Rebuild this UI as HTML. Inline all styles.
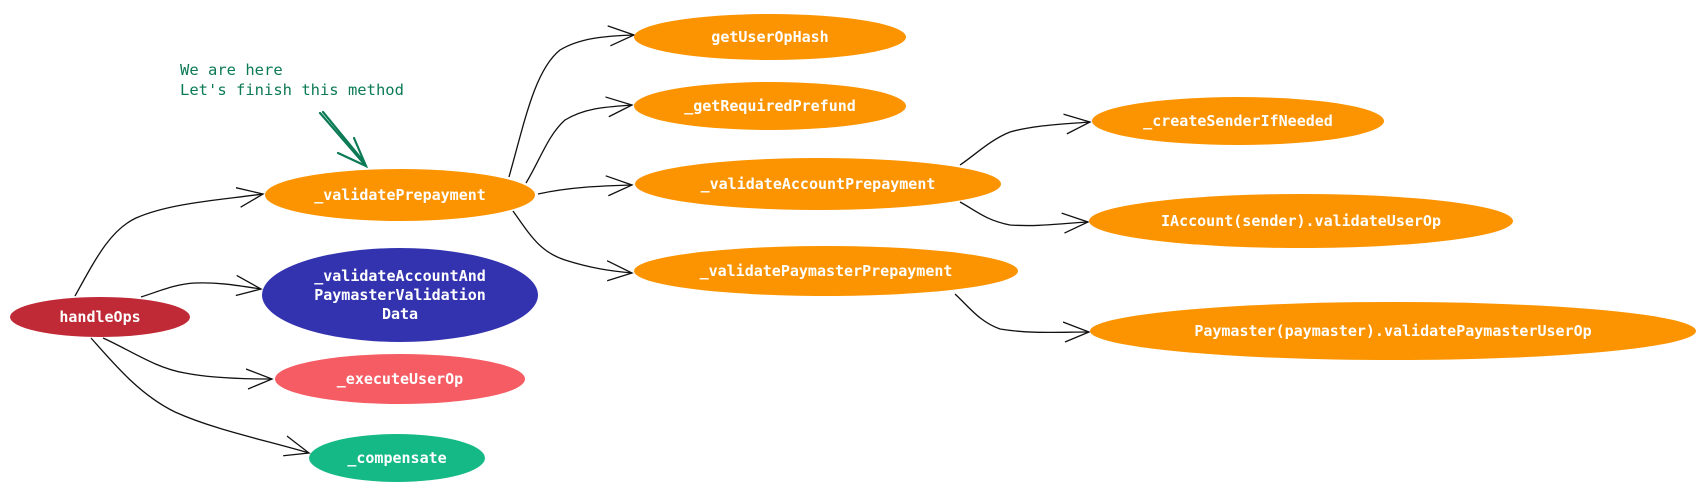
<!DOCTYPE html>
<html><head><meta charset="utf-8"><style>
html,body{margin:0;padding:0;background:#fff;}
svg{display:block;}
.t{font-family:"DejaVu Sans Mono","Liberation Mono",monospace;font-weight:bold;font-size:15px;fill:#fff;text-anchor:middle;dominant-baseline:central;}
.e{fill:none;stroke:#111;stroke-width:1.3;}
</style></head><body>
<svg width="1706" height="492" viewBox="0 0 1706 492" xmlns="http://www.w3.org/2000/svg">
<defs>
<marker id="a" markerUnits="userSpaceOnUse" markerWidth="30" markerHeight="24" refX="26" refY="11" orient="auto">
<path d="M0,1 L26,11 L2,21" fill="none" stroke="#111" stroke-width="1.3"/>
</marker>
</defs>
<!-- edges -->
<path class="e" marker-end="url(#a)" d="M75,296 C95,260 110,230 136,218 C170,203 220,200 263,194"/>
<path class="e" marker-end="url(#a)" d="M141,297 C160,291 175,284 195,283 C220,282 240,286 261,289"/>
<path class="e" marker-end="url(#a)" d="M103,338 C130,350 155,368 185,373 C210,378 240,379 272,379"/>
<path class="e" marker-end="url(#a)" d="M91,338 C115,365 140,395 175,412 C215,430 265,440 309,453"/>
<path class="e" marker-end="url(#a)" d="M509,177 C525,120 535,70 560,50 C580,38 605,36 634,35"/>
<path class="e" marker-end="url(#a)" d="M526,183 C540,160 548,135 565,120 C585,108 605,107 632,105"/>
<path class="e" marker-end="url(#a)" d="M538,194 C570,187 600,186 632,185"/>
<path class="e" marker-end="url(#a)" d="M513,211 C530,235 540,252 565,260 C590,268 610,271 632,273"/>
<path class="e" marker-end="url(#a)" d="M960,165 C975,155 990,140 1010,132 C1035,125 1065,124 1090,122"/>
<path class="e" marker-end="url(#a)" d="M960,202 C975,210 985,220 1010,225 C1040,227 1065,223 1088,222"/>
<path class="e" marker-end="url(#a)" d="M955,294 C970,308 980,322 1000,329 C1030,334 1060,332 1089,332"/>
<!-- annotation -->
<text x="180" y="75" style="font-family:'DejaVu Sans Mono','Liberation Mono',monospace;font-size:15.5px;fill:#0b7a55;">We are here</text>
<text x="180" y="95" style="font-family:'DejaVu Sans Mono','Liberation Mono',monospace;font-size:15.5px;fill:#0b7a55;">Let's finish this method</text>
<g stroke="#0b7a55" stroke-width="2.2" fill="none" stroke-linecap="round">
<path d="M320,113 L366,166"/><path d="M323,112 L364,162"/>
<path d="M338,153 L366,166 L354,138"/>
</g>
<!-- nodes -->
<ellipse cx="100" cy="317" rx="90" ry="20" fill="#c02a37"/>
<text class="t" x="100" y="317">handleOps</text>
<ellipse cx="400" cy="195" rx="135" ry="26" fill="#fb9400"/>
<text class="t" x="400" y="195">_validatePrepayment</text>
<ellipse cx="400" cy="295" rx="138" ry="47" fill="#3333b0"/>
<text class="t" x="400" y="276">_validateAccountAnd</text>
<text class="t" x="400" y="295">PaymasterValidation</text>
<text class="t" x="400" y="314">Data</text>
<ellipse cx="400" cy="379" rx="125" ry="25" fill="#f55c63"/>
<text class="t" x="400" y="379">_executeUserOp</text>
<ellipse cx="397" cy="458" rx="88" ry="24" fill="#15b985"/>
<text class="t" x="397" y="458">_compensate</text>
<ellipse cx="770" cy="37" rx="136" ry="23" fill="#fb9400"/>
<text class="t" x="770" y="37">getUserOpHash</text>
<ellipse cx="770" cy="106" rx="136" ry="24" fill="#fb9400"/>
<text class="t" x="770" y="106">_getRequiredPrefund</text>
<ellipse cx="818" cy="184" rx="183" ry="26" fill="#fb9400"/>
<text class="t" x="818" y="184">_validateAccountPrepayment</text>
<ellipse cx="826" cy="271" rx="192" ry="25" fill="#fb9400"/>
<text class="t" x="826" y="271">_validatePaymasterPrepayment</text>
<ellipse cx="1238" cy="121" rx="146" ry="24" fill="#fb9400"/>
<text class="t" x="1238" y="121">_createSenderIfNeeded</text>
<ellipse cx="1301" cy="221" rx="212" ry="27" fill="#fb9400"/>
<text class="t" x="1301" y="221">IAccount(sender).validateUserOp</text>
<ellipse cx="1393" cy="331" rx="303" ry="29" fill="#fb9400"/>
<text class="t" x="1393" y="331">Paymaster(paymaster).validatePaymasterUserOp</text>
</svg>
</body></html>
